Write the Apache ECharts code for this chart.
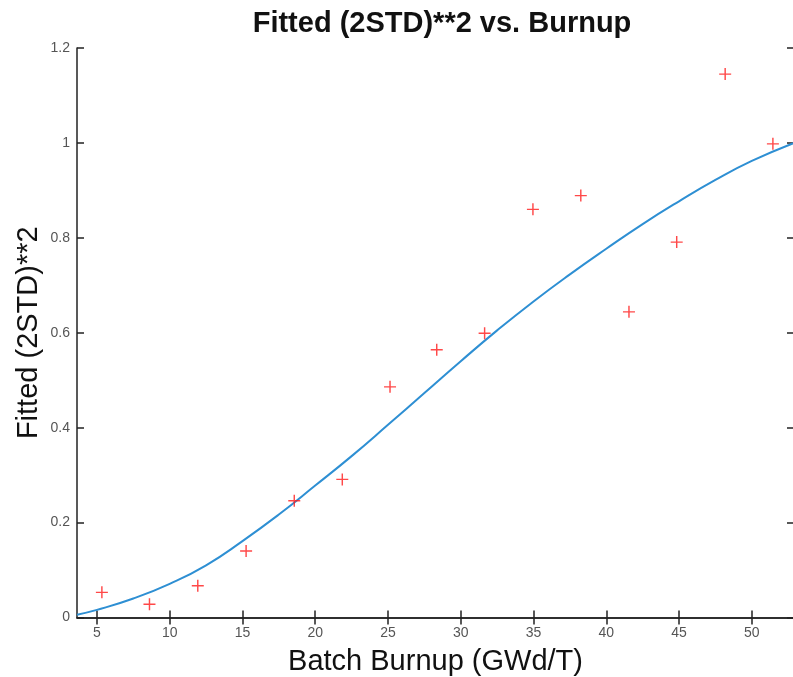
<!DOCTYPE html>
<html>
<head>
<meta charset="utf-8">
<script src="https://cdn.jsdelivr.net/npm/echarts@6/dist/echarts.min.js"></script>
<style>
html,body{margin:0;padding:0;background:#fff;}
#chart{width:793px;height:677px;}
</style>
</head>
<body>
<div id="chart"></div>
<script>
// Measured points
var burnupX = [5.34, 8.61, 11.93, 15.25, 18.56, 21.86, 25.14, 28.35, 31.64, 34.96, 38.25, 41.56, 44.84, 48.17, 51.45];
var std2Y   = [0.053, 0.028, 0.067, 0.140, 0.246, 0.291, 0.486, 0.564, 0.599, 0.860, 0.889, 0.644, 0.791, 1.145, 0.998];
// Fitted curve
var fitX = [3.63, 5, 7.5, 10, 12.5, 15, 17.5, 20, 22.5, 25, 27.5, 30, 32.5, 35, 37.5, 40, 42.5, 45, 47.5, 50, 52.9];
var fitY = [0.006, 0.016, 0.040, 0.071, 0.110, 0.161, 0.217, 0.278, 0.340, 0.406, 0.473, 0.540, 0.605, 0.666, 0.723, 0.777, 0.829, 0.877, 0.922, 0.962, 1.000];
var xTicks = [5, 10, 15, 20, 25, 30, 35, 40, 45, 50];

var chart = echarts.init(document.getElementById('chart'), null, {renderer: 'canvas'});
var fontFam = '"Liberation Sans", Arial, Helvetica, sans-serif';
var axisLine = {show: true, lineStyle: {color: '#222', width: 1.5}};
var tickIn = {show: true, inside: true, length: 7, lineStyle: {color: '#222', width: 1.5}};
var xMin = 3.63, xMax = 52.9;

var option = {
  backgroundColor: '#fff',
  animation: false,
  title: {
    text: 'Fitted (2STD)**2 vs. Burnup',
    left: 437, top: 4, textAlign: 'center',
    textStyle: {fontFamily: fontFam, fontSize: 29, fontWeight: 'bold', color: '#111'}
  },
  grid: {left: 77, right: -1, top: 48, bottom: 59.5, containLabel: false, outerBoundsMode: 'none'},
  xAxis: [{
    type: 'value', min: xMin, max: xMax, position: 'bottom',
    axisLine: axisLine,
    axisTick: Object.assign({customValues: xTicks}, tickIn),
    axisLabel: {customValues: xTicks, color: '#555', fontSize: 14, fontFamily: fontFam, margin: 9},
    splitLine: {show: false},
    name: 'Batch Burnup (GWd/T)', nameLocation: 'middle', nameGap: 30, nameMoveOverlap: false,
    nameTextStyle: {fontFamily: fontFam, fontSize: 29, color: '#111'}
  }, {
    type: 'value', min: xMin, max: xMax, position: 'top',
    axisLine: axisLine,
    axisTick: Object.assign({customValues: xTicks}, tickIn),
    axisLabel: {show: false, customValues: xTicks},
    splitLine: {show: false}
  }],
  yAxis: [{
    type: 'value', min: 0, max: 1.2, interval: 0.2, position: 'left',
    axisLine: axisLine, axisTick: tickIn,
    axisLabel: {color: '#555', fontSize: 14, fontFamily: fontFam, margin: 7},
    splitLine: {show: false},
    name: 'Fitted (2STD)**2', nameLocation: 'middle', nameGap: 34, nameMoveOverlap: false,
    nameTextStyle: {fontFamily: fontFam, fontSize: 29, color: '#111'}
  }, {
    type: 'value', min: 0, max: 1.2, interval: 0.2, position: 'right',
    axisLine: axisLine, axisTick: tickIn,
    axisLabel: {show: false}, splitLine: {show: false}
  }],
  series: [{
    type: 'line', xAxisIndex: 0, yAxisIndex: 0,
    data: fitX.map(function (x, i) { return [x, fitY[i]]; }),
    smooth: 0.5, showSymbol: false, symbol: 'none',
    lineStyle: {color: '#2e8fd3', width: 2}, z: 2
  }, {
    type: 'scatter', xAxisIndex: 0, yAxisIndex: 0,
    data: burnupX.map(function (x, i) { return [x, std2Y[i]]; }),
    symbol: 'path://M4.4,0H5.6V4.4H10V5.6H5.6V10H4.4V5.6H0V4.4H4.4Z',
    symbolSize: 12,
    itemStyle: {color: '#ff1a1a'}, z: 3
  }]
};
chart.setOption(option);
</script>
</body>
</html>
